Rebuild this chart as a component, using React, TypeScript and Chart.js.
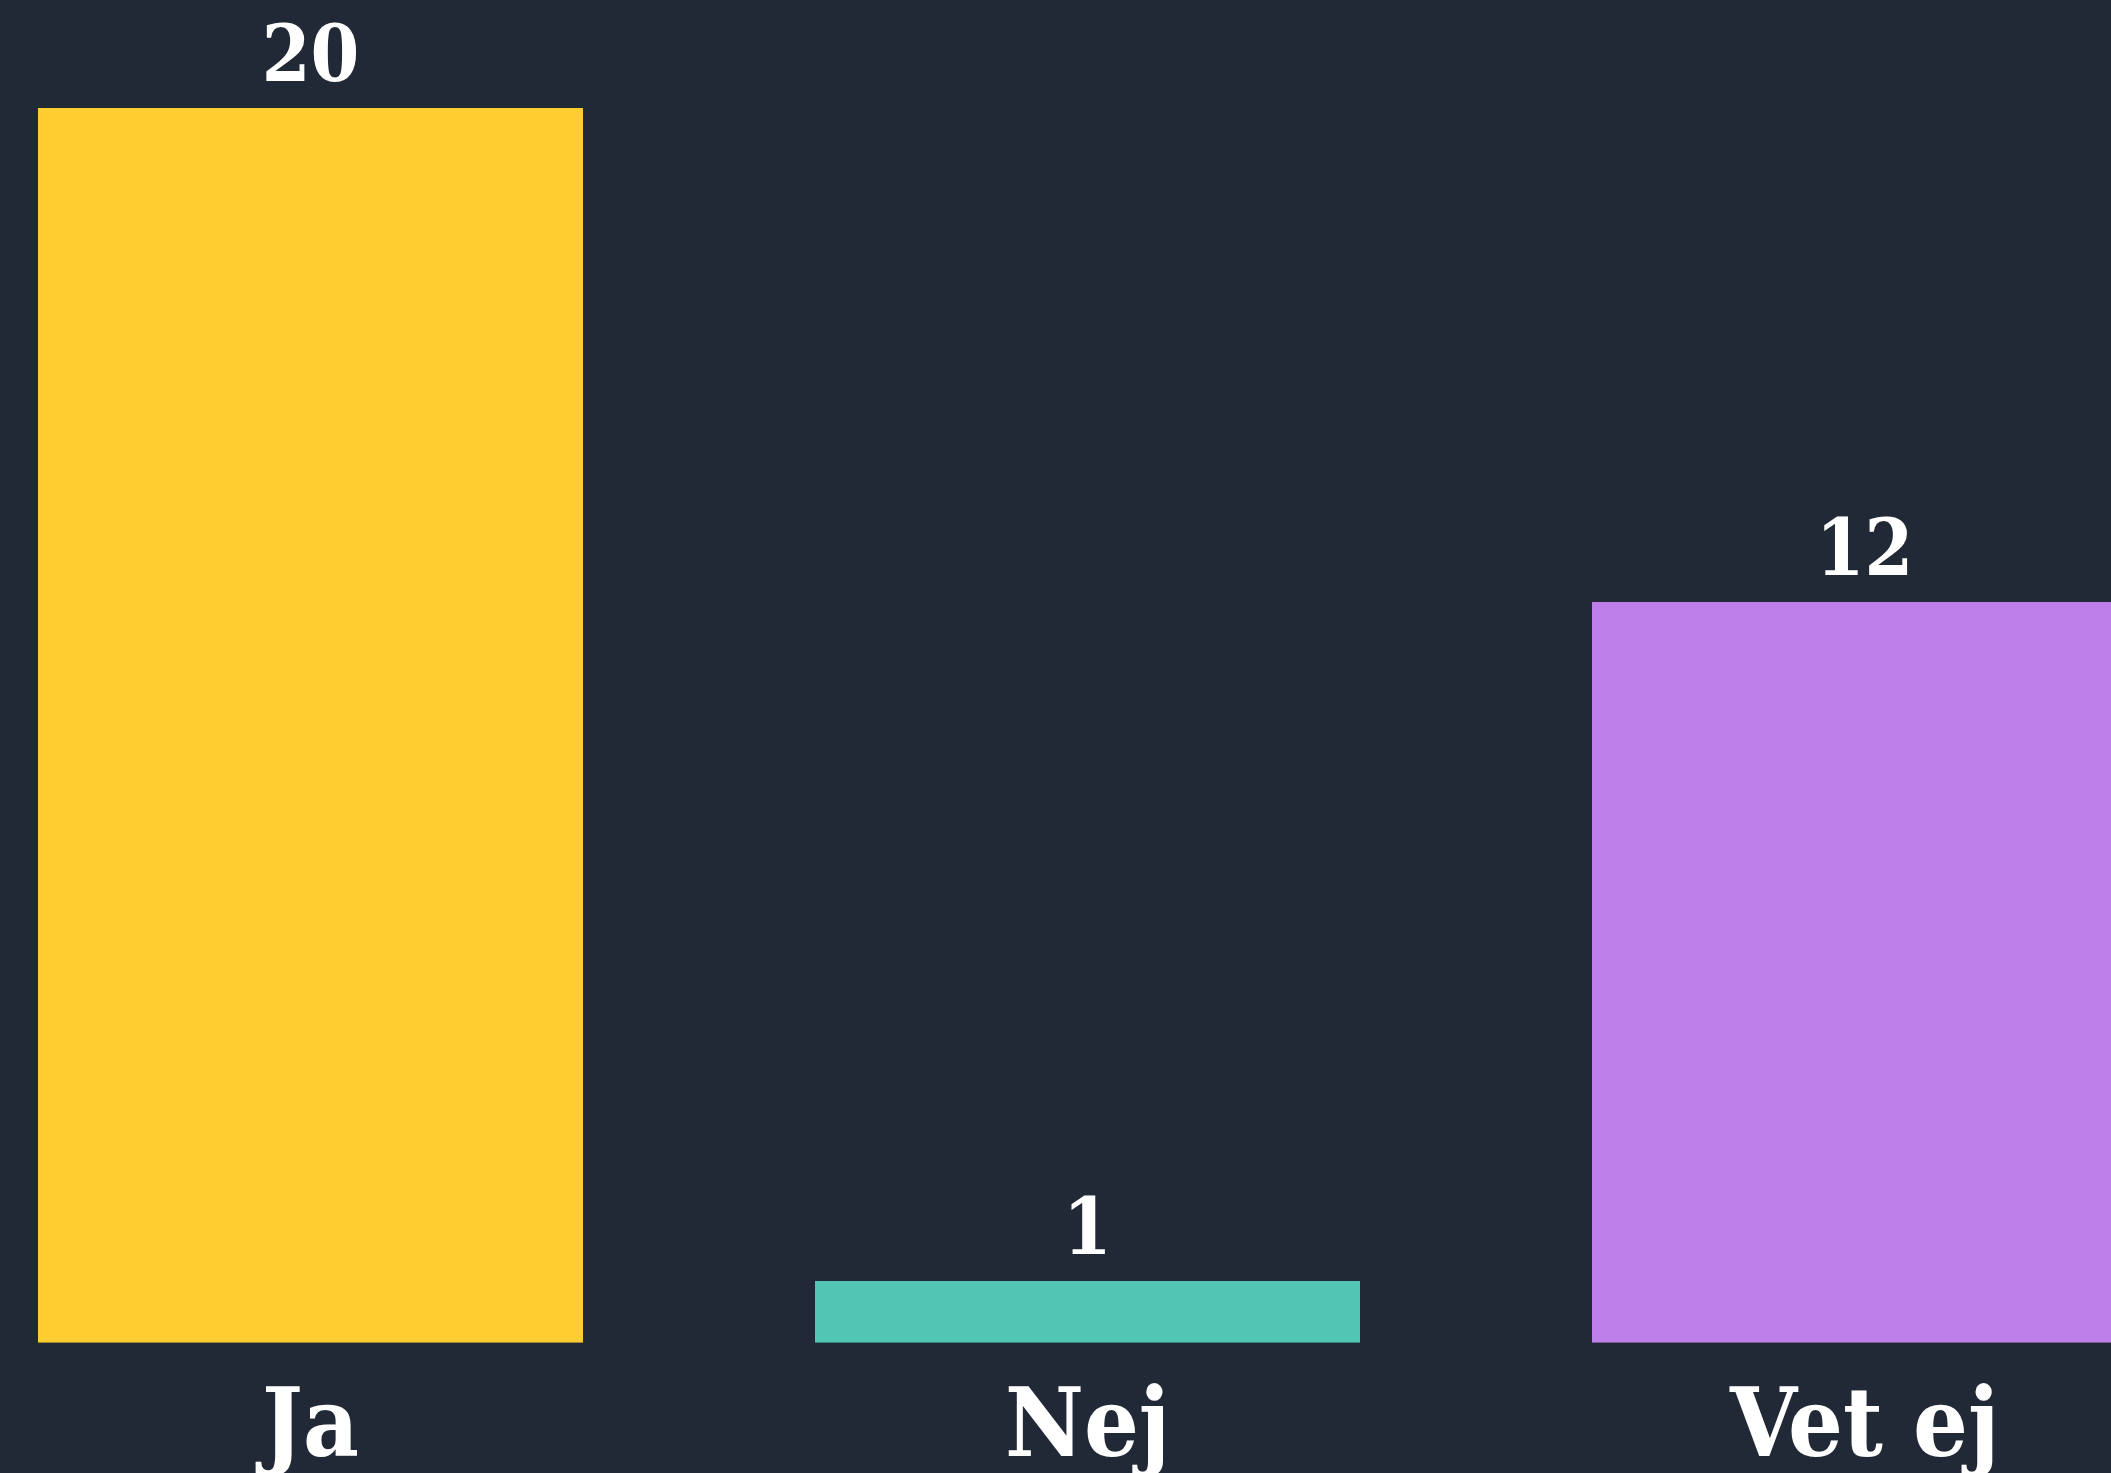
import React, { useEffect, useRef } from "react";
import { Chart, registerables } from "chart.js";

Chart.register(...registerables);

const categories: string[] = ["Ja", "Nej", "Vet ej"];
const values: number[] = [20, 1, 12];
const barColors: string[] = ["#FFCD30", "#52C5B4", "#BF7FEA"];

const BG = "#212936";
const FONT = "'DejaVu Serif Condensed', 'DejaVu Serif', serif";

const valueLabelPlugin = {
  id: "valueLabels",
  afterDatasetsDraw(chart: any) {
    const ctx = chart.ctx;
    const meta = chart.getDatasetMeta(0);
    ctx.save();
    ctx.fillStyle = "#ffffff";
    ctx.font = `bold 78px ${FONT}`;
    ctx.textAlign = "center";
    ctx.textBaseline = "alphabetic";
    meta.data.forEach((bar: any, i: number) => {
      ctx.fillText(String(values[i]), bar.x, bar.y - 27);
    });
    ctx.restore();
  },
};

export default function App() {
  const canvasRef = useRef<HTMLCanvasElement | null>(null);

  useEffect(() => {
    document.body.style.margin = "0";
    document.body.style.overflow = "hidden";
    document.body.style.background = BG;
    const canvas = canvasRef.current;
    if (!canvas) return;
    const chart = new Chart(canvas, {
      type: "bar",
      data: {
        labels: categories,
        datasets: [
          {
            data: values,
            backgroundColor: barColors,
            borderWidth: 0,
            barPercentage: 0.7014,
            categoryPercentage: 1,
          },
        ],
      },
      options: {
        animation: false,
        responsive: false,
        devicePixelRatio: 1,
        layout: { padding: { top: 108, left: 0, right: 0, bottom: 0 } },
        plugins: {
          legend: { display: false },
          tooltip: { enabled: false },
          title: { display: false },
        },
        scales: {
          y: {
            display: false,
            min: 0,
            max: 20,
          },
          x: {
            grid: { display: false, drawTicks: false },
            border: { display: false },
            ticks: {
              color: "#ffffff",
              padding: 31,
              font: { family: FONT, size: 96, weight: "bold", lineHeight: 1.2 },
            },
          },
        },
      },
      plugins: [valueLabelPlugin],
    });
    return () => chart.destroy();
  }, []);

  return (
    <div style={{ position: "relative", width: 2111, height: 1473, overflow: "hidden", background: BG }}>
      <canvas
        ref={canvasRef}
        width={2331}
        height={1520}
        style={{ position: "absolute", left: -78, top: 0, width: 2331, height: 1520 }}
      />
    </div>
  );
}
